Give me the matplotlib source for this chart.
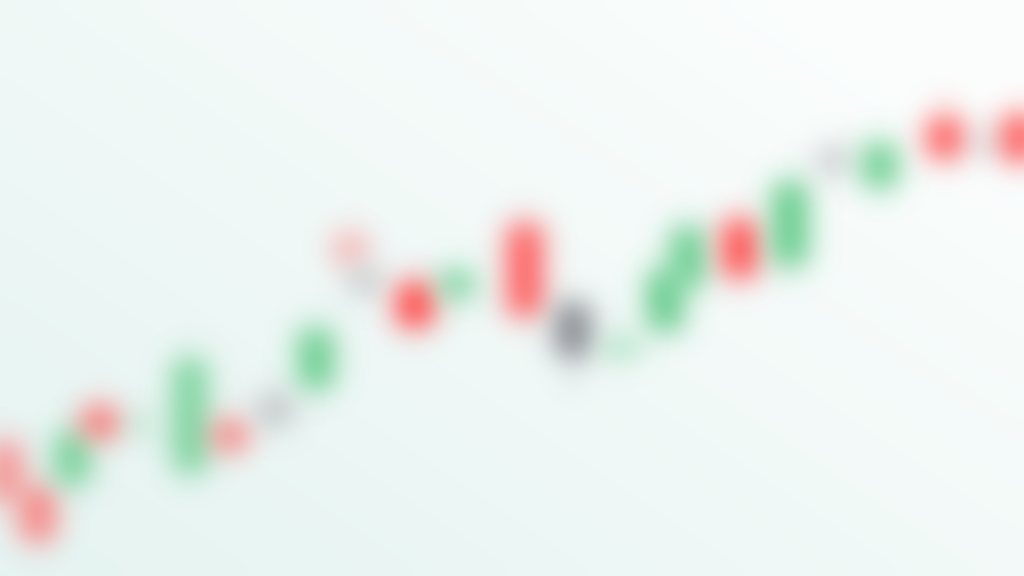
import math
import numpy as np
import matplotlib
matplotlib.use("Agg")
import matplotlib.pyplot as plt

# ---- data (time position, OHLC in price units) ----
t     = [5, 38, 72, 100, 140, 190, 230, 275, 316, 350, 365, 415, 457, 525, 573,
         622, 665, 688, 740, 790, 833, 880, 945, 988, 1020]
open_ = [133, 88, 92, 168, 144, 104, 154, 181, 188, 342, 306, 292, 278, 351, 272,
         218, 246, 291, 355, 311, 428, 389, 457, 442, 460]
close = [76, 36, 143, 139, 158, 216, 127, 151, 246, 313, 282, 250, 305, 261, 220,
         238, 304, 348, 300, 393, 402, 432, 419, 425, 416]
high  = [146, 106, 161, 181, 171, 236, 166, 191, 261, 356, 314, 306, 316, 366, 281,
         251, 316, 361, 371, 411, 436, 446, 481, 451, 471]
low   = [61, 21, 81, 131, 136, 91, 116, 141, 176, 301, 271, 241, 266, 251, 186,
         211, 236, 281, 286, 296, 396, 376, 411, 416, 406]
kind  = ["down", "down", "up", "down", "up", "up", "down", "flat", "up", "down",
         "flat", "down", "up", "down", "dark", "up", "up", "up", "down", "up",
         "flat", "up", "down", "flat", "down"]

# ---- styles ----
COLORS = {"up": (0.36, 0.79, 0.52), "down": (1.0, 0.33, 0.33),
          "flat": (0.68, 0.68, 0.70), "dark": (0.45, 0.45, 0.48)}
weights = [0.6, 0.7, 0.8, 0.85, 0.35, 0.75, 0.75, 0.7, 0.9, 0.4,
           0.6, 1.15, 0.8, 0.95, 0.85, 0.5, 0.95, 0.9, 1.05, 0.95,
           0.6, 0.9, 1.0, 0.5, 1.0]
BODY_W = 36
WICK_W = 3
SIGMA = 14.0

fig = plt.figure(figsize=(10.24, 5.76), dpi=100)
ax = fig.add_axes([0, 0, 1, 1])
ax.axis("off")

# background gradient
gx = np.linspace(0, 1, 64)
gy = np.linspace(0, 1, 36)
X, Y = np.meshgrid(gx, gy)
left_bot = np.array([0.900, 0.955, 0.945])
right_top = np.array([0.985, 0.995, 0.992])
mix = np.clip(0.6 * X + 0.5 * Y, 0, 1)[..., None]
bg = left_bot * (1 - mix) + right_top * mix
ax.imshow(bg, extent=[0, 1024, 0, 576], origin="lower", aspect="auto",
          zorder=0, interpolation="bicubic")

_erf = np.frompyfunc(math.erf, 1, 1)


def phi(v):
    return 0.5 * (1 + _erf(v / math.sqrt(2)).astype(float))


def band(coords, a, b):
    """Gaussian-blurred indicator of [a, b] along one axis."""
    return phi((coords - a) / SIGMA) - phi((coords - b) / SIGMA)


def blurred_candle(x, o, c, hi, lo, color, strength):
    b0, b1 = min(o, c), max(o, c)
    if b1 - b0 < 4:
        b0, b1 = (b0 + b1) / 2 - 2, (b0 + b1) / 2 + 2
    m = 4 * SIGMA
    x0, x1 = x - BODY_W / 2 - m, x + BODY_W / 2 + m
    y0, y1 = lo - m, hi + m
    xs = np.arange(x0, x1 + 1, 1.0)
    ys = np.arange(y0, y1 + 1, 1.0)
    body = np.outer(band(ys, b0, b1), band(xs, x - BODY_W / 2, x + BODY_W / 2))
    wick = np.outer(band(ys, lo, hi), band(xs, x - WICK_W / 2, x + WICK_W / 2))
    alpha = 1 - (1 - body) * (1 - 0.8 * wick)
    rgba = np.zeros(alpha.shape + (4,))
    rgba[..., :3] = color
    rgba[..., 3] = np.clip(alpha * strength, 0, 1)
    ax.imshow(rgba, extent=[x0, x1, y0, y1], origin="lower", aspect="auto",
              interpolation="bilinear", zorder=3)


for i in range(len(t)):
    blurred_candle(t[i], open_[i], close[i], high[i], low[i],
                   COLORS[kind[i]], weights[i])

ax.set_xlim(0, 1024)
ax.set_ylim(0, 576)
fig.savefig("out.png", dpi=100)
